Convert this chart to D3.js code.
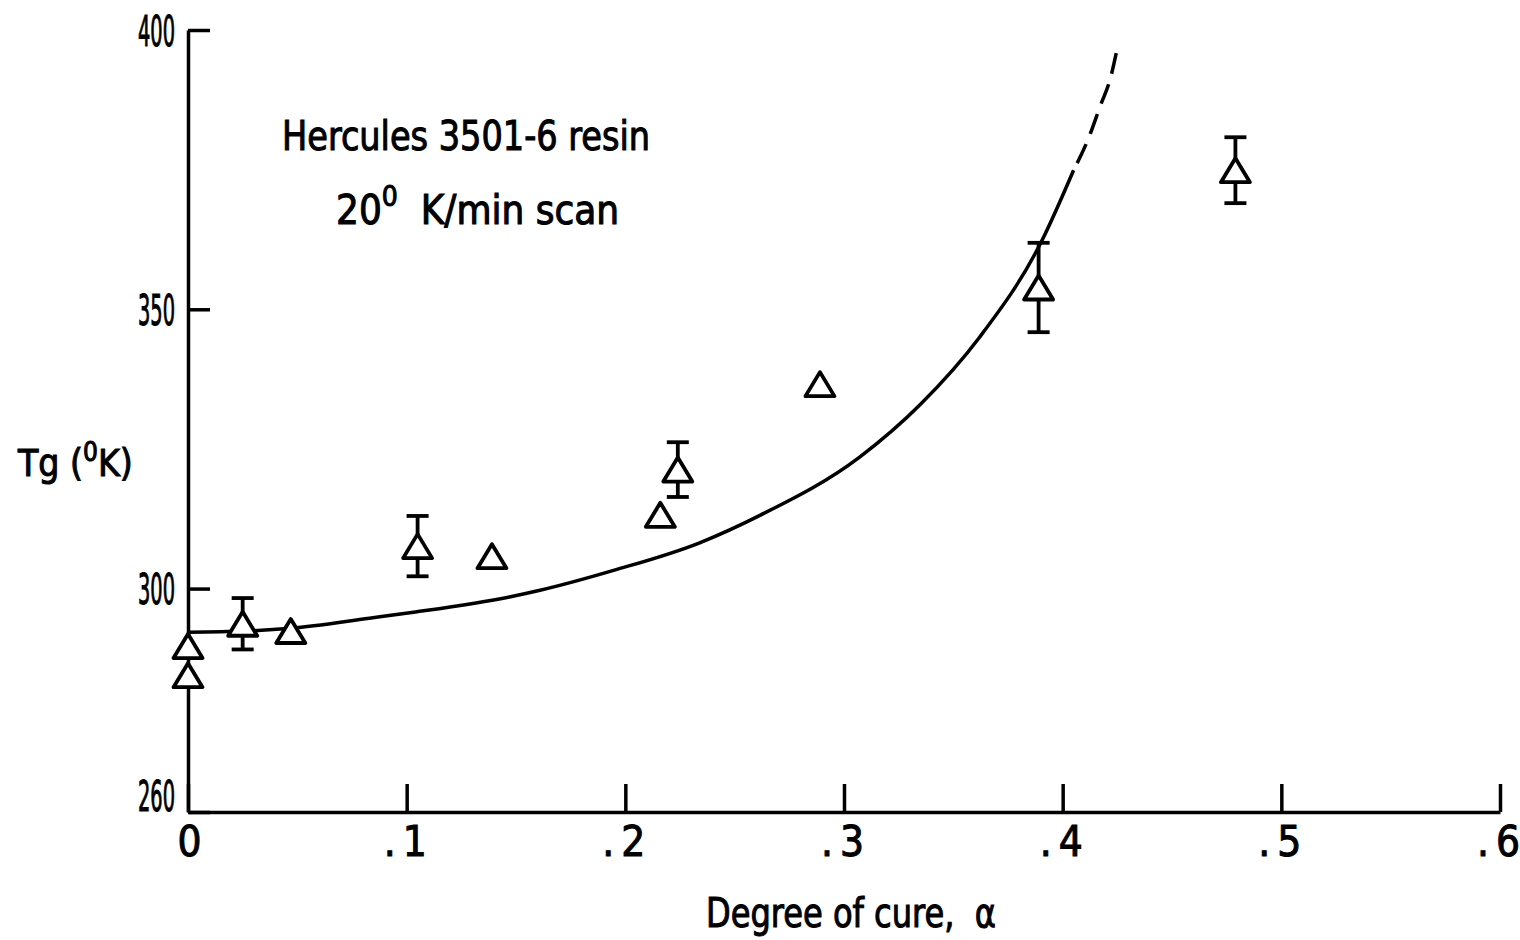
<!DOCTYPE html>
<html><head><meta charset="utf-8">
<script src="https://cdn.jsdelivr.net/npm/d3@7"></script>
<style>
body{margin:0;background:#fff;}
svg text{font-family:"Liberation Sans Narrow","DejaVu Sans Condensed","Arial Narrow",sans-serif;fill:#000;stroke:#000;stroke-width:1px;}
</style></head><body>
<svg id="chart" width="1520" height="940"></svg>
<script>
// ---- data ----
const xTicks = [0, 0.1, 0.2, 0.3, 0.4, 0.5, 0.6];
const xTickLabels = ["0", ".1", ".2", ".3", ".4", ".5", ".6"];
const yTicks = [260, 300, 350, 400];
const yTickLabels = ["260", "300", "350", "400"];

const pointAlpha = [0, 0, 0.025, 0.047, 0.105, 0.139, 0.216, 0.224, 0.289, 0.389, 0.479];
const pointTg    = [289.7, 284.5, 293.7, 292.4, 307.6, 305.8, 313.2, 321.3, 336.6, 353.9, 374.9];
const pointErr   = [0, 0, 4.6, 0, 5.4, 0, 0, 4.9, 0, 8.0, 5.9];

const curveAlpha = [0, 0.026, 0.047, 0.083, 0.104, 0.147, 0.161, 0.195, 0.234, 0.262, 0.307, 0.335, 0.362, 0.390, 0.405];
const curveTg    = [292.2, 292.4, 292.9, 294.7, 295.8, 298.5, 299.7, 303.3, 308.2, 313.2, 323.5, 333.0, 345.0, 361.9, 374.9];
const dashAlpha  = [0.405, 0.412, 0.417, 0.422, 0.425];
const dashTg     = [374.9, 380.8, 386.2, 391.6, 396.8];

// ---- layout ----
const svg = d3.select("#chart");
const x = d3.scaleLinear().domain([0, 0.6]).range([188, 1500]);
const y = d3.scaleLinear().domain([260, 400]).range([812, 30]);
const FS = 40;

// axes
const yAxis = d3.axisLeft(y).tickValues(yTicks).tickFormat((d, i) => yTickLabels[i])
  .tickSizeInner(-22).tickSizeOuter(0).tickPadding(13);
const xAxis = d3.axisBottom(x).tickValues(xTicks).tickFormat((d, i) => xTickLabels[i])
  .tickSizeInner(-28).tickSizeOuter(0).tickPadding(14);

const gy = svg.append("g").attr("transform", `translate(${x(0)},0)`).call(yAxis);
const gx = svg.append("g").attr("transform", `translate(0,${y(260)})`).call(xAxis);
[gy, gx].forEach(g => {
  g.select(".domain").attr("stroke", "#000").attr("stroke-width", 3.5);
  g.selectAll(".tick line").attr("stroke", "#000").attr("stroke-width", 3.5);
  g.selectAll(".tick text").attr("font-size", 42).attr("font-family", null).attr("fill", "#000");
});
gy.selectAll(".tick text").attr("textLength", 37).attr("lengthAdjust", "spacingAndGlyphs")
  .attr("dy", (d) => d === 260 ? "-0.03em" : "0.36em");
// x labels: split leading dot and digit with a gap
gx.selectAll(".tick text").each(function(d, i) {
  const s = xTickLabels[i];
  const t = d3.select(this).text(null);
  if (s.startsWith(".")) {
    t.append("tspan").text(".");
    t.append("tspan").attr("dx", 7).text(s.slice(1));
    t.attr("dx", -2);
  } else {
    t.append("tspan").text(s);
    t.attr("dx", 1);
  }
});

// curve
const line = d3.line().x(d => x(d[0])).y(d => y(d[1])).curve(d3.curveMonotoneX);
svg.append("path").datum(curveAlpha.map((a, i) => [a, curveTg[i]]))
  .attr("d", line).attr("fill", "none").attr("stroke", "#000").attr("stroke-width", 3.5);
svg.append("path").datum(dashAlpha.map((a, i) => [a, dashTg[i]]))
  .attr("d", line).attr("fill", "none").attr("stroke", "#000").attr("stroke-width", 3.5)
  .attr("stroke-dasharray", "21,11").attr("stroke-dashoffset", -8);

// points
const pts = pointAlpha.map((a, i) => ({a, t: pointTg[i], e: pointErr[i]}));
const eb = svg.append("g").attr("stroke", "#000").attr("stroke-width", 3.8);
pts.filter(d => d.e > 0).forEach(d => {
  const cx = x(d.a), y1 = y(d.t + d.e), y2 = y(d.t - d.e);
  eb.append("line").attr("x1", cx).attr("x2", cx).attr("y1", y1).attr("y2", y2);
  eb.append("line").attr("x1", cx - 11).attr("x2", cx + 11).attr("y1", y1).attr("y2", y1);
  eb.append("line").attr("x1", cx - 11).attr("x2", cx + 11).attr("y1", y2).attr("y2", y2);
});
const W = 29, H = 24;
svg.append("g").selectAll("path").data(pts).join("path")
  .attr("d", d => {
    const cx = x(d.a), cy = y(d.t);
    return `M${cx},${cy - H / 2}L${cx + W / 2},${cy + H / 2}L${cx - W / 2},${cy + H / 2}Z`;
  })
  .attr("fill", "#fff").attr("stroke", "#000").attr("stroke-width", 3.8).attr("stroke-linejoin", "round");

// titles
const yt = svg.append("text").attr("x", 18).attr("y", 476).attr("font-size", 37);
yt.append("tspan").text("Tg (");
yt.append("tspan").attr("dy", -15).attr("font-size", 26).text("0");
yt.append("tspan").attr("dy", 15).text("K)");

svg.append("text").attr("x", 706).attr("y", 927).attr("font-size", FS)
  .attr("textLength", 290).attr("lengthAdjust", "spacingAndGlyphs")
  .attr("xml:space", "preserve").style("white-space", "pre").text("Degree of cure,  α");

svg.append("text").attr("x", 282).attr("y", 150).attr("font-size", FS)
  .attr("textLength", 368).attr("lengthAdjust", "spacingAndGlyphs").text("Hercules 3501-6 resin");

const l2 = svg.append("text").attr("x", 336).attr("y", 224).attr("font-size", FS)
  .attr("xml:space", "preserve").style("white-space", "pre");
l2.append("tspan").text("20");
l2.append("tspan").attr("dy", -18).attr("font-size", 28).text("0");
l2.append("tspan").attr("dy", 18).text("  K/min scan");
</script>
</body></html>
